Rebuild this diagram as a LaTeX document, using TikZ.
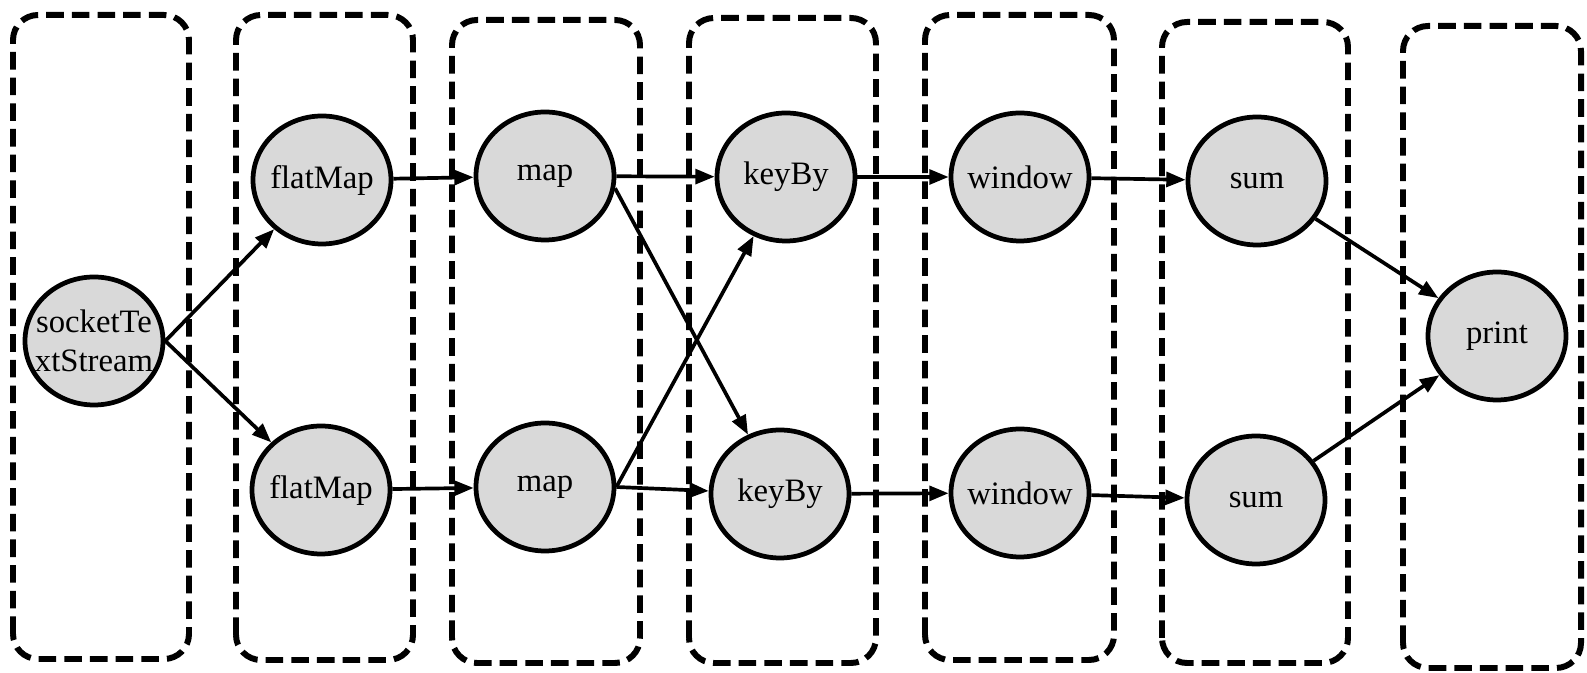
\documentclass[tikz,border=0pt]{standalone}
\usepackage{fontspec}
\setmainfont{Liberation Serif}
\usepackage{tikz}
\usetikzlibrary{arrows.meta}
\usetikzlibrary{shapes.geometric}
\definecolor{opgray}{RGB}{217, 217, 217}
\tikzset{op/.style = {ellipse, draw, line width=1.35pt, fill=opgray,
                      minimum width=1.38cm, minimum height=1.28cm,
                      inner xsep=-0.2cm, inner ysep=0pt, align=center,
                      font=\fontsize{9.3pt}{11pt}\selectfont},
         flow/.style = {line width=1.05pt, -{Triangle[length=5.5pt, width=4.2pt]}},
         stage/.style = {line width=1.7pt, dash pattern=on 5pt off 2.3pt,
                         rounded corners=0.25cm}}

\begin{document}
\begin{tikzpicture}
    \useasboundingbox (0, 0) rectangle (15.87, 6.73);
    \foreach \xa/\xb/\ya/\yb in {0.13/1.89/0.14/6.58, 2.36/4.13/0.13/6.58,
                                 4.52/6.40/0.10/6.53, 6.89/8.76/0.10/6.55,
                                 9.25/11.14/0.13/6.58, 11.62/13.48/0.10/6.51,
                                 14.03/15.81/0.05/6.47} {
      \draw [stage] (\xa, \ya) rectangle (\xb, \yb);
    }

    \node [op] (src) at (0.94, 3.32) {socketTe\\xtStream};
    \node [op] (fm1) at (3.22, 4.93) {flatMap};
    \node [op] (fm2) at (3.21, 1.83) {flatMap};
    \node [op] (map1) at (5.45, 4.97) {map};
    \node [op] (map2) at (5.45, 1.86) {map};
    \node [op] (key1) at (7.86, 4.96) {keyBy};
    \node [op] (key2) at (7.80, 1.79) {keyBy};
    \node [op] (win1) at (10.20, 4.96) {window};
    \node [op] (win2) at (10.20, 1.80) {window};
    \node [op] (sum1) at (12.57, 4.92) {sum};
    \node [op] (sum2) at (12.56, 1.73) {sum};
    \node [op] (sink) at (14.97, 3.37) {print};

    \draw [flow] (src.east) -- (fm1);
    \draw [flow] (src.east) -- (fm2);
    \draw [flow] (fm1) -- (map1);
    \draw [flow] (fm2) -- (map2);
    \draw [flow] (map1) -- (key1);
    \draw [flow] (map1.-10) -- (key2);
    \draw [flow] (map2.east) -- (key1);
    \draw [flow] (map2.east) -- (key2);
    \draw [flow] (key1) -- (win1);
    \draw [flow] (key2) -- (win2);
    \draw [flow] (win1) -- (sum1);
    \draw [flow] (win2) -- (sum2);
    \draw [flow] (sum1) -- (sink);
    \draw [flow] (sum2) -- (sink);
  \end{tikzpicture}
\end{document}
